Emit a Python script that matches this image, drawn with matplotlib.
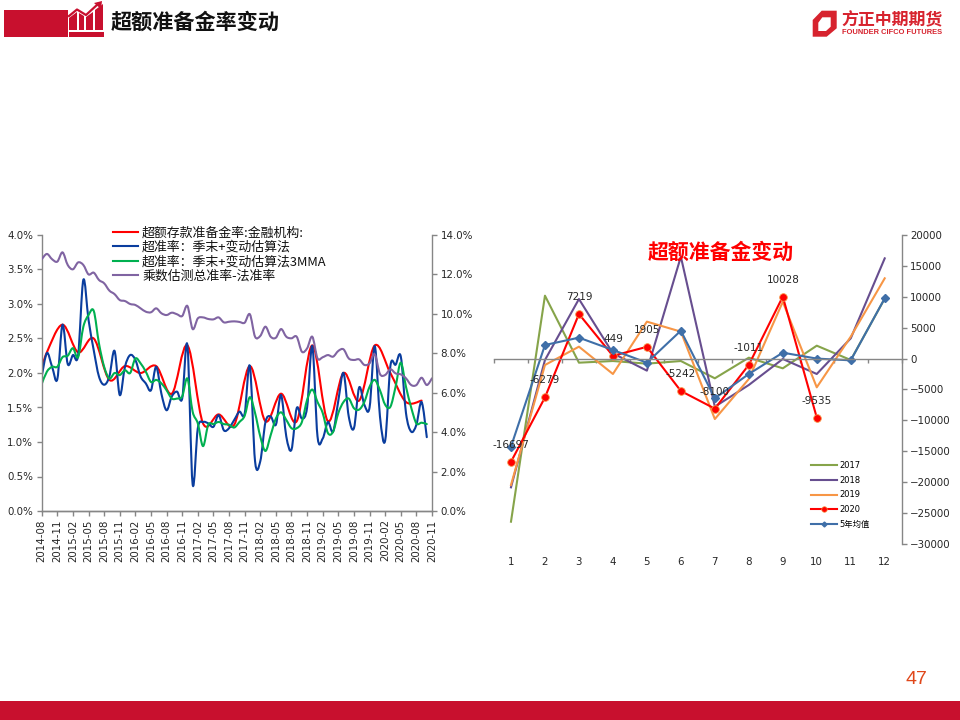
import numpy as np
import matplotlib
matplotlib.use('Agg')
import matplotlib.pyplot as plt
from matplotlib.path import Path
from matplotlib.patches import PathPatch, Polygon, Rectangle
from matplotlib.lines import Line2D

plt.rcParams['font.family'] = ['DejaVu Sans', 'Noto Sans CJK SC']

CJK = ['Noto Sans CJK SC', 'DejaVu Sans']

# left chart, monthly index counted from 2014-08
month_labels = ['2014-08', '2014-11', '2015-02', '2015-05', '2015-08', '2015-11', '2016-02', '2016-05', '2016-08',
                '2016-11', '2017-02', '2017-05', '2017-08', '2017-11', '2018-02', '2018-05', '2018-08', '2018-11',
                '2019-02', '2019-05', '2019-08', '2019-11', '2020-02', '2020-05', '2020-08', '2020-11']

# official ratio only exists at quarter ends
excess_idx = [0, 1, 4, 7, 10, 13, 16, 19, 22, 25, 28, 31, 34, 37, 40, 43, 46, 49, 52, 55, 58, 61, 64, 67, 70, 73]
excess_ratio = [2.05, 2.3, 2.7, 2.3, 2.5, 1.9, 2.1, 2.0, 2.1, 1.7, 2.4, 1.27, 1.4, 1.25, 2.1, 1.3, 1.7, 1.3, 2.4,
                1.3, 2.0, 1.6, 2.4, 2.0, 1.58, 1.6]

est_ratio = [1.95, 2.29, 2.09, 1.91, 2.7, 2.13, 2.26, 2.26, 3.35, 2.77, 2.33, 1.95, 1.83, 1.95, 2.32, 1.68, 2.09,
             2.26, 2.19, 1.95, 1.85, 1.75, 2.09, 1.7, 1.46, 1.66, 1.73, 1.63, 2.4, 0.39, 1.2, 1.29, 1.27, 1.22,
             1.39, 1.17, 1.2, 1.32, 1.44, 1.41, 2.1, 0.72, 0.72, 1.29, 1.37, 1.25, 1.68, 1.08, 0.89, 1.49, 1.34,
             1.5, 2.39, 1.08, 1.05, 1.29, 1.15, 1.6, 2.0, 1.37, 1.2, 1.79, 1.54, 1.5, 2.39, 1.37, 1.02, 2.1, 2.12,
             2.24, 1.42, 1.15, 1.25, 1.58, 1.07]

est_3mma = [1.84, 2.02, 2.09, 2.09, 2.23, 2.25, 2.36, 2.23, 2.67, 2.84, 2.9, 2.43, 2.09, 1.92, 2.0, 1.97, 2.04, 2.0,
            2.21, 2.14, 2.02, 1.87, 1.9, 1.85, 1.75, 1.63, 1.63, 1.66, 1.92, 1.44, 1.27, 0.94, 1.25, 1.26, 1.29,
            1.26, 1.25, 1.21, 1.29, 1.38, 1.65, 1.42, 1.08, 0.87, 1.1, 1.34, 1.43, 1.32, 1.2, 1.2, 1.29, 1.61, 1.76,
            1.58, 1.42, 1.13, 1.15, 1.42, 1.58, 1.63, 1.49, 1.47, 1.58, 1.8, 1.9, 1.75, 1.54, 1.51, 1.8, 2.15, 1.8,
            1.5, 1.27, 1.28, 1.26]

multiplier_ratio = [12.77, 13.04, 12.77, 12.65, 13.12, 12.48, 12.26, 12.61, 12.48, 12.0, 12.09, 11.72, 11.55, 11.18,
                    11.0, 10.7, 10.65, 10.5, 10.45, 10.28, 10.11, 10.08, 10.28, 10.03, 9.94, 10.06, 9.98, 9.89,
                    10.4, 9.23, 9.77, 9.82, 9.74, 9.72, 9.82, 9.57, 9.6, 9.62, 9.59, 9.55, 9.98, 8.84, 8.88, 9.35,
                    8.84, 8.79, 9.23, 8.84, 8.76, 8.84, 8.08, 8.25, 8.84, 7.74, 7.8, 7.91, 7.83, 8.12, 8.2, 7.74,
                    7.66, 7.69, 7.41, 7.49, 7.95, 6.95, 6.9, 7.19, 6.98, 6.93, 6.73, 6.39, 6.39, 6.76, 6.39, 6.73]

left_names = ['超额存款准备金率:金融机构:', '超准率：季末+变动估算法', '超准率：季末+变动估算法3MMA', '乘数估测总准率-法准率']
left_colors = ['#FF0000', '#0A3D9E', '#00B050', '#8064A2']

# right chart
months = list(range(1, 13))
y2017 = [-26390, 10180, -660, -390, -820, -390, -3190, 150, -1575, 2090, -230, 9700]
y2018 = [-20830, -230, 9640, 850, -1950, 16490, -7780, -4270, -60, -2490, 3280, 16220]
y2019 = [-20450, -1035, 1930, -2490, 5980, 4360, -9780, -3300, 9200, -4650, 3550, 12990]
y2020 = [-16697, -6279, 7219, 449, 1905, -5242, -8100, -1011, 10028, -9535]
y5avg = [-14250, 2200, 3390, 1390, -660, 4520, -6430, -2490, 960, 0, -280, 9750]

W, H = 960, 720
GRAY = '#868686'
TXT = '#262626'


def px_axes(left, right, top, bottom):
    return fig.add_axes([left / W, 1 - bottom / H, (right - left) / W, (bottom - top) / H])


def smooth_path(x, y):
    # same kind of curve as a smoothed excel line
    p = np.column_stack([x, y]).astype(float)
    verts = [p[0]]
    codes = [Path.MOVETO]
    for i in range(len(p) - 1):
        prev = p[max(i - 1, 0)]
        nxt = p[min(i + 2, len(p) - 1)]
        verts += [p[i] + (p[i + 1] - prev) / 6, p[i + 1] - (nxt - p[i]) / 6, p[i + 1]]
        codes += [Path.CURVE4] * 3
    return Path(verts, codes)


def draw_smooth(ax, x, y, color, lw=1.5):
    ax.add_patch(PathPatch(smooth_path(x, y), fc='none', ec=color, lw=lw, capstyle='round', joinstyle='round'))


def style_axis(ax):
    for s in ax.spines.values():
        s.set_color(GRAY)
        s.set_linewidth(1)
    ax.tick_params(colors=TXT, color=GRAY, labelsize=7.4, length=3.6, width=1, pad=2.5)


fig = plt.figure(figsize=(9.6, 7.2), dpi=100, facecolor='white')

# ---- page furniture, in pixels
bg = fig.add_axes([0, 0, 1, 1])
bg.set_xlim(0, W)
bg.set_ylim(H, 0)
bg.axis('off')
RED = '#C8102E'
bg.add_patch(Rectangle((4, 9.5), 64, 27, color=RED, lw=0))
bg.add_patch(Rectangle((69, 32), 35, 4.5, color=RED, lw=0))
bg.add_patch(Polygon([(69, 18), (77, 12), (77, 30), (69, 30)], color=RED, lw=0))
bg.add_patch(Polygon([(79, 13), (84, 16), (84, 30), (79, 30)], color=RED, lw=0))
bg.add_patch(Polygon([(86, 17), (93, 12), (93, 30), (86, 30)], color=RED, lw=0))
bg.add_patch(Polygon([(95, 10), (103, 4), (103, 30), (95, 30)], color=RED, lw=0))
bg.plot([69, 77, 86, 98], [16, 9.5, 15, 4], color=RED, lw=1.6)
bg.add_patch(Polygon([(94, 3), (102, 1), (101, 9)], color=RED, lw=0))
bg.text(111, 22.5, '超额准备金率变动', family=CJK, fontsize=15.2, fontweight='bold', color='#111111',
        va='center', ha='left')

bg.add_patch(Polygon([(812.7, 20), (821.7, 10.7), (836.7, 10.7), (836.7, 28.3), (826.7, 36.7), (812.7, 36.7)],
                     color='#D7232E', lw=0))
bg.add_patch(Polygon([(818.3, 22.7), (822.3, 17.3), (830.7, 17.3), (830.7, 26.7), (826, 31), (818.3, 31)],
                     color='white', lw=0))
bg.text(841, 20, '方正中期期货', family=CJK, fontsize=12.2, fontweight='bold', color='#D7232E', va='center', ha='left')
bg.text(842, 33, 'FOUNDER CIFCO FUTURES', family=['Liberation Sans'], fontsize=5.4, fontweight='bold',
        color='#D7232E', va='center', ha='left')

bg.add_patch(Rectangle((0, 701), W, 19, color=RED, lw=0))
bg.text(916, 680, '47', family=['Liberation Sans'], fontsize=14, color='#E0471A', va='center', ha='center')

# ---- left chart
ax1 = px_axes(41.7, 432, 235, 511)
ax1.set_zorder(2)
ax1.patch.set_visible(False)
ax1.set_xlim(0, 75)
ax1.set_ylim(0, 4)
idx = np.arange(len(multiplier_ratio))
draw_smooth(ax1, excess_idx, excess_ratio, left_colors[0])
draw_smooth(ax1, idx[:len(est_ratio)], est_ratio, left_colors[1])
draw_smooth(ax1, idx[:len(est_3mma)], est_3mma, left_colors[2])
ax1.set_yticks(np.arange(0, 4.01, 0.5))
ax1.set_yticklabels([f'{v:.1f}%' for v in np.arange(0, 4.01, 0.5)])
ax1.set_xticks(np.arange(0, 76, 3))
ax1.set_xticklabels(month_labels, rotation=90)
ax1.spines['top'].set_visible(False)
ax1.spines['right'].set_visible(False)
style_axis(ax1)

ax1r = ax1.twinx()
ax1r.set_zorder(3)
ax1r.set_ylim(0, 14)
draw_smooth(ax1r, idx, multiplier_ratio, left_colors[3])
ax1r.set_yticks(np.arange(0, 14.01, 2))
ax1r.set_yticklabels([f'{v:.1f}%' for v in np.arange(0, 14.01, 2)])
ax1r.spines['top'].set_visible(False)
ax1r.spines['left'].set_visible(False)
style_axis(ax1r)

handles = [Line2D([], [], color=c, lw=1.5) for c in left_colors]
leg = ax1r.legend(handles, left_names, loc='upper left', bbox_to_anchor=(110.5 / W, 1 - 224 / H),
                  bbox_transform=fig.transFigure, frameon=False, prop={'family': CJK, 'size': 9.3},
                  labelspacing=0.11, handlelength=1.95, handletextpad=0.3, borderpad=0.2, borderaxespad=0)
for t in leg.get_texts():
    t.set_color('#111111')

# ---- right chart
ax2 = px_axes(494, 901.7, 235, 544)
ax2.set_xlim(0.5, 12.5)
ax2.set_ylim(-30000, 20000)
ax2.plot(months, y2017, color='#86A44A', lw=1.5)
ax2.plot(months, y2018, color='#674E8F', lw=1.5)
ax2.plot(months, y2019, color='#F79646', lw=1.5)
ax2.plot(months[:len(y2020)], y2020, color='#FF0000', lw=1.5, marker='o', ms=5.5, mfc='#FF0000', mec='#F79646',
         mew=0.6)
ax2.plot(months, y5avg, color='#3F6FA8', lw=1.5, marker='D', ms=4, mfc='#3F6FA8', mec='#3F6FA8')
for m, v in zip(months, y2020):
    ax2.annotate(str(v), (m, v), xytext=(0, 17), textcoords='offset pixels', ha='center', va='center',
                 fontsize=7.5, color=TXT, annotation_clip=False)
ax2.yaxis.tick_right()
ax2.set_yticks(np.arange(-30000, 20001, 5000))
ax2.set_xticks(np.arange(0.5, 12.51, 1), minor=False)
ax2.set_xticklabels([])
ax2.spines['top'].set_visible(False)
ax2.spines['left'].set_visible(False)
ax2.spines['bottom'].set_position(('data', 0))
style_axis(ax2)
ax2.tick_params(axis='x', length=3)
for m in months:
    ax2.annotate(str(m), (m, 0), xycoords=('data', 'axes fraction'), xytext=(0, -18), textcoords='offset pixels',
                 ha='center', va='center', fontsize=7.4, color=TXT, annotation_clip=False)

handles2 = [Line2D([], [], color='#86A44A', lw=1.5), Line2D([], [], color='#674E8F', lw=1.5),
            Line2D([], [], color='#F79646', lw=1.5),
            Line2D([], [], color='#FF0000', lw=1.5, marker='o', ms=4, mfc='#FF0000', mec='#F79646', mew=0.5),
            Line2D([], [], color='#3F6FA8', lw=1.5, marker='D', ms=2.5, mfc='#3F6FA8', mec='#3F6FA8')]
ax2.legend(handles2, ['2017', '2018', '2019', '2020', '5年均值'], loc='upper left',
           bbox_to_anchor=(809 / W, 1 - 459.5 / H), bbox_transform=fig.transFigure, frameon=False,
           prop={'family': ['DejaVu Sans', 'Noto Sans CJK SC'], 'size': 6}, labelspacing=0.68, handlelength=3.2,
           handletextpad=0.3, borderpad=0.2, borderaxespad=0)

fig.text(721 / W, 1 - 252.5 / H, '超额准备金变动', family=CJK, fontsize=15, fontweight='bold', color='#FF0000',
         va='center', ha='center')

fig.savefig('out.png', dpi=100)
